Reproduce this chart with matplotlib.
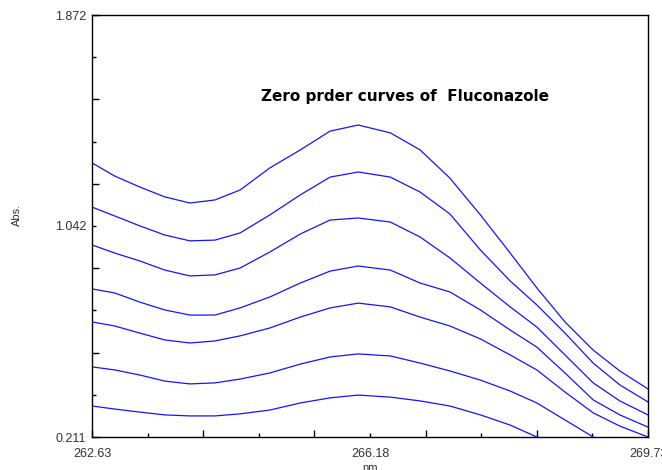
import numpy as np
import matplotlib.pyplot as plt
from matplotlib.ticker import FixedLocator, FixedFormatter

# wavelength (nm)
wl = [262.63, 262.92, 263.24, 263.56, 263.88, 264.20, 264.52, 264.90, 265.29, 265.67, 266.03,
      266.44, 266.82, 267.20, 267.59, 267.97, 268.31, 268.67, 269.03, 269.37, 269.73]

# absorbance of the seven zero-order curves, top to bottom
abs1 = [1.290, 1.238, 1.195, 1.156, 1.132, 1.144, 1.183, 1.270, 1.341, 1.415, 1.439,
        1.408, 1.341, 1.230, 1.085, 0.935, 0.798, 0.664, 0.553, 0.471, 0.400]
abs2 = [1.116, 1.081, 1.042, 1.006, 0.983, 0.986, 1.014, 1.085, 1.164, 1.234, 1.254,
        1.234, 1.175, 1.089, 0.947, 0.825, 0.731, 0.620, 0.502, 0.416, 0.349]
abs3 = [0.967, 0.935, 0.904, 0.868, 0.845, 0.849, 0.876, 0.939, 1.010, 1.065, 1.073,
        1.057, 0.998, 0.916, 0.817, 0.723, 0.644, 0.534, 0.424, 0.353, 0.298]
abs4 = [0.794, 0.778, 0.742, 0.711, 0.691, 0.691, 0.719, 0.762, 0.817, 0.864, 0.884,
        0.868, 0.817, 0.782, 0.711, 0.632, 0.565, 0.463, 0.357, 0.298, 0.250]
abs5 = [0.664, 0.648, 0.620, 0.593, 0.581, 0.589, 0.609, 0.640, 0.683, 0.719, 0.738,
        0.723, 0.683, 0.648, 0.597, 0.534, 0.475, 0.388, 0.306, 0.254, 0.211]
abs6 = [0.487, 0.475, 0.455, 0.431, 0.420, 0.424, 0.439, 0.463, 0.498, 0.526, 0.538,
        0.530, 0.502, 0.471, 0.435, 0.392, 0.345, 0.278, 0.211, 0.152, 0.097]
abs7 = [0.333, 0.321, 0.309, 0.298, 0.294, 0.294, 0.302, 0.317, 0.345, 0.365, 0.376,
        0.368, 0.353, 0.333, 0.298, 0.258, 0.211, 0.164, 0.121, 0.081, 0.042]
curves = [abs1, abs2, abs3, abs4, abs5, abs6, abs7]

xmin, xmax = 262.63, 269.73
ymin, ymax = 0.211, 1.872
xlabels = ['262.63', '266.18', '269.73']
ylabels = ['0.211', '1.042', '1.872']

plt.rcParams['font.family'] = ['Liberation Sans', 'DejaVu Sans']

fig = plt.figure(figsize=(6.62, 4.70), dpi=100)
ax = fig.add_axes([92/662, 33/470, 556/662, 422/470])

for c in curves:
    ax.plot(wl, c, color='#1414ff', lw=0.9)

ax.set_xlim(xmin, xmax)
ax.set_ylim(ymin, ymax)

xt = np.linspace(xmin, xmax, 11)
yt = np.linspace(ymin, ymax, 11)

# long ticks on even steps, short on odd; labels at ends and middle
ax.xaxis.set_major_locator(FixedLocator(xt[::2]))
ax.xaxis.set_major_formatter(FixedFormatter([xlabels[0], '', '', '', '', xlabels[2]]))
ax.xaxis.set_minor_locator(FixedLocator(xt[1::2]))
ax.xaxis.set_minor_formatter(FixedFormatter(['', '', xlabels[1], '', '']))
ax.yaxis.set_major_locator(FixedLocator(yt[::2]))
ax.yaxis.set_major_formatter(FixedFormatter([ylabels[0], '', '', '', '', ylabels[2]]))
ax.yaxis.set_minor_locator(FixedLocator(yt[1::2]))
ax.yaxis.set_minor_formatter(FixedFormatter(['', '', ylabels[1], '', '']))

ax.tick_params(which='major', direction='in', length=5, width=1, labelsize=9,
               colors='black', labelcolor='#333333')
ax.tick_params(which='minor', direction='in', length=3, width=1, labelsize=9,
               colors='black', labelcolor='#333333')
ax.tick_params(axis='x', which='both', pad=8)
ax.tick_params(axis='y', which='both', pad=4)

for s in ax.spines.values():
    s.set_linewidth(1)

ax.set_xlabel('nm', fontsize=8, color='#333333', labelpad=2)
ax.set_ylabel('Abs.', fontsize=8, color='#333333')
ax.yaxis.set_label_coords(-0.126, 0.526)

ax.text(0.563, 0.806, 'Zero prder curves of  Fluconazole', transform=ax.transAxes,
        ha='center', va='center', fontsize=11, fontweight='bold',
        family=['DejaVu Sans'], color='black')

fig.savefig('out.png', dpi=100)
